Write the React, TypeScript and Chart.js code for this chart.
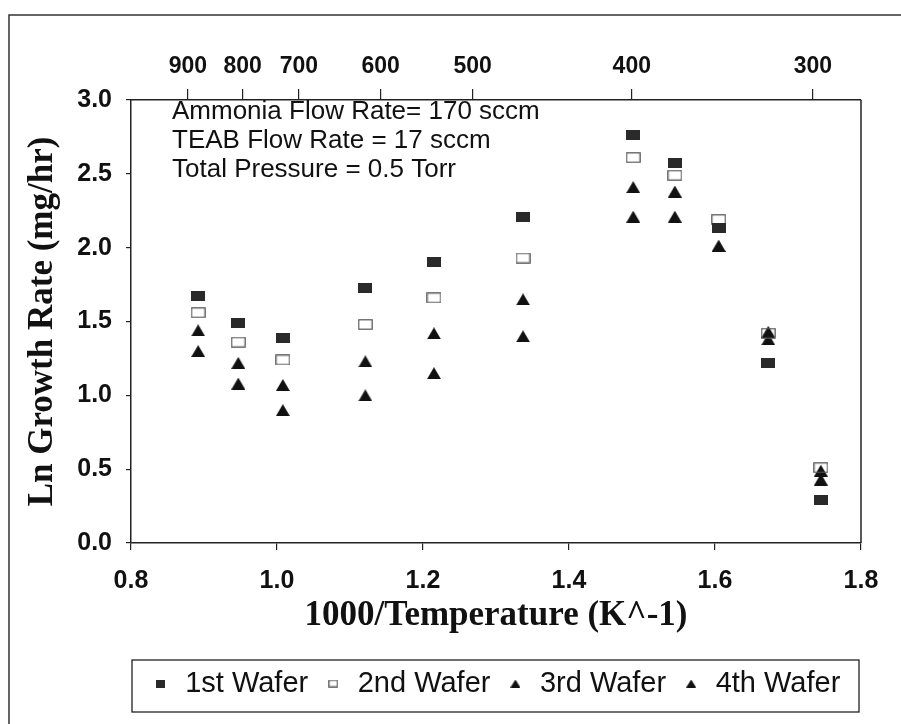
import React, { useEffect, useRef } from 'react';
import { Chart, registerables } from 'chart.js';

Chart.register(...registerables);

// ---- data ----
const xValues = [0.892, 0.947, 1.008, 1.121, 1.215, 1.337, 1.488, 1.545, 1.605, 1.673, 1.745];
const wafer1 = [1.67, 1.49, 1.39, 1.73, 1.90, 2.21, 2.76, 2.57, 2.13, 1.22, 0.29];
const wafer2 = [1.56, 1.36, 1.24, 1.48, 1.66, 1.93, 2.61, 2.49, 2.19, 1.42, 0.51];
const wafer3 = [1.44, 1.22, 1.07, 1.23, 1.42, 1.65, 2.41, 2.38, 2.01, 1.43, 0.49];
const wafer4 = [1.30, 1.08, 0.90, 1.00, 1.15, 1.40, 2.21, 2.21, 2.01, 1.38, 0.43];
const seriesNames = ['1st Wafer', '2nd Wafer', '3rd Wafer', '4th Wafer'];
const xTicks = [0.8, 1.0, 1.2, 1.4, 1.6, 1.8];
const yTicks = [0, 0.5, 1.0, 1.5, 2.0, 2.5, 3.0];
const topTickPositions = [0.878, 0.953, 1.030, 1.142, 1.268, 1.486, 1.734];
const topTickLabels = ['900', '800', '700', '600', '500', '400', '300'];
const annotationLines = [
  'Ammonia Flow Rate= 170 sccm',
  'TEAB Flow Rate = 17 sccm',
  'Total Pressure = 0.5 Torr',
];
const xTitle = '1000/Temperature (K^-1)';
const yTitle = 'Ln Growth Rate (mg/hr)';

const SANS = '"Liberation Sans", Arial, sans-serif';
const SERIF = '"Liberation Serif", "Times New Roman", serif';
const INK = '#111';

function makeCanvas(w: number, h: number) {
  const c = document.createElement('canvas');
  c.width = w;
  c.height = h;
  return c;
}
function filledRect(w: number, h: number) {
  const c = makeCanvas(w, h);
  const g = c.getContext('2d')!;
  g.fillStyle = '#2a2a2a';
  g.fillRect(0, 0, w, h);
  return c;
}
function openRect(w: number, h: number) {
  const c = makeCanvas(w, h);
  const g = c.getContext('2d')!;
  g.strokeStyle = '#555';
  g.lineWidth = 1.2;
  g.strokeRect(0.8, 0.8, w - 1.6, h - 1.6);
  return c;
}
function triangle(w: number, h: number) {
  const c = makeCanvas(w, h);
  const g = c.getContext('2d')!;
  g.fillStyle = '#111';
  g.beginPath();
  g.moveTo(w / 2, 0);
  g.lineTo(w, h);
  g.lineTo(0, h);
  g.closePath();
  g.fill();
  return c;
}

export default function App() {
  const ref = useRef<HTMLCanvasElement>(null);

  useEffect(() => {
    const canvas = ref.current;
    if (!canvas) return;
    const series = [wafer1, wafer2, wafer3, wafer4];
    const pointStyles = [filledRect(14, 10), openRect(15, 11), triangle(14, 12), triangle(14, 12)];
    const legendStyles = [filledRect(9, 8), openRect(10, 8), triangle(10, 8), triangle(10, 8)];

    const decor = {
      id: 'decor',
      afterLayout(chart: any) {
        const lg = chart.legend;
        const ca = chart.chartArea;
        if (lg && ca) {
          lg.left = ca.left + 1;
          lg.right = ca.right - 2;
          lg.width = lg.right - lg.left;
        }
      },
      beforeDraw(chart: any) {
        const ctx = chart.ctx;
        ctx.save();
        ctx.strokeStyle = '#333';
        ctx.lineWidth = 1.5;
        ctx.beginPath();
        ctx.moveTo(9, chart.height);
        ctx.lineTo(9, 15);
        ctx.lineTo(chart.width, 15);
        ctx.stroke();
        ctx.restore();
      },
      afterDraw(chart: any) {
        const ctx = chart.ctx;
        const ca = chart.chartArea;
        ctx.save();
        ctx.strokeStyle = '#222';
        ctx.lineWidth = 1.5;
        ctx.beginPath();
        ctx.moveTo(ca.right, ca.top);
        ctx.lineTo(ca.right, ca.bottom);
        ctx.stroke();
        // legend frame
        const lg = chart.legend;
        if (lg) {
          ctx.lineWidth = 1.3;
          ctx.strokeRect(ca.left + 1, lg.top + 6, ca.right - ca.left - 3, 52);
        }
        // annotation text
        ctx.fillStyle = INK;
        ctx.font = `26px ${SANS}`;
        ctx.textAlign = 'left';
        ctx.textBaseline = 'middle';
        annotationLines.forEach((t, i) => {
          ctx.fillText(t, ca.left + 41, ca.top + 12 + i * 29);
        });
        ctx.restore();
      },
    };

    const chart = new Chart(canvas, {
      type: 'scatter',
      data: {
        datasets: series.map((vals, k) => ({
          label: seriesNames[k],
          data: xValues.map((x, i) => ({ x, y: vals[i] })),
          pointStyle: pointStyles[k],
          pointRadius: 6,
          showLine: false,
          xAxisID: 'x',
          yAxisID: 'y',
        })),
      },
      options: {
        animation: false,
        responsive: true,
        maintainAspectRatio: false,
        events: [],
        layout: { padding: { left: 0, right: 40, top: 0, bottom: 16 } },
        scales: {
          x: {
            type: 'linear',
            position: 'bottom',
            min: 0.8,
            max: 1.8,
            afterBuildTicks: (s: any) => {
              s.ticks = xTicks.map((v) => ({ value: v }));
            },
            afterFit: (s: any) => {
              s.height = 111;
            },
            grid: { drawOnChartArea: false, drawTicks: true, tickLength: 7, color: '#222', lineWidth: 1.2 },
            border: { display: true, color: '#222', width: 1.5 },
            ticks: {
              padding: 16,
              color: INK,
              autoSkip: false,
              maxRotation: 0,
              font: { family: SANS, size: 25, weight: 'bold' },
              callback: (v: any) => Number(v).toFixed(1),
            },
            title: {
              display: true,
              text: xTitle,
              color: INK,
              font: { family: SERIF, size: 35, weight: 'bold' },
              padding: { top: 0, bottom: 17 },
            },
          },
          x2: {
            type: 'linear',
            position: 'top',
            min: 0.8,
            max: 1.8,
            afterBuildTicks: (s: any) => {
              s.ticks = topTickPositions.map((v) => ({ value: v }));
            },
            afterFit: (s: any) => {
              s.height = 100;
            },
            grid: { drawOnChartArea: false, drawTicks: true, tickLength: 11, color: '#222', lineWidth: 1.2 },
            border: { display: true, color: '#222', width: 1.5 },
            ticks: {
              padding: 9,
              color: INK,
              autoSkip: false,
              maxRotation: 0,
              font: { family: SANS, size: 23, weight: 'bold' },
              callback: (_v: any, i: number) => topTickLabels[i],
            },
          },
          y: {
            type: 'linear',
            position: 'left',
            min: 0,
            max: 3,
            afterBuildTicks: (s: any) => {
              s.ticks = yTicks.map((v) => ({ value: v }));
            },
            afterFit: (s: any) => {
              s.width = 131;
            },
            grid: { drawOnChartArea: false, drawTicks: true, tickLength: 5, color: '#222', lineWidth: 1.2 },
            border: { display: true, color: '#222', width: 1.5 },
            ticks: {
              padding: 14,
              color: INK,
              font: { family: SANS, size: 25, weight: 'bold' },
              callback: (v: any) => Number(v).toFixed(1),
            },
            title: {
              display: true,
              text: yTitle,
              color: INK,
              font: { family: SERIF, size: 35, weight: 'bold' },
              padding: { top: 22, bottom: 0 },
            },
          },
        },
        plugins: {
          tooltip: { enabled: false },
          legend: {
            display: true,
            position: 'bottom',
            labels: {
              usePointStyle: true,
              boxWidth: 20,
              boxHeight: 8,
              padding: 15,
              color: INK,
              font: { family: SANS, size: 29 },
              generateLabels: (ch: any) => {
                const items = (Chart.defaults.plugins.legend.labels as any).generateLabels(ch);
                return items.map((it: any) => ({ ...it, pointStyle: legendStyles[it.datasetIndex] }));
              },
            },
          },
        },
      } as any,
      plugins: [decor],
    });

    return () => chart.destroy();
  }, []);

  return (
    <div style={{ position: 'absolute', left: 0, top: 0, width: 901, height: 724, background: '#fff' }}>
      <canvas ref={ref} />
    </div>
  );
}
